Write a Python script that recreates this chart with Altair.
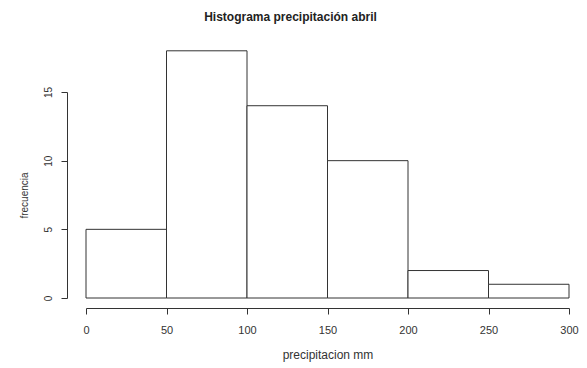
import altair as alt
import pandas as pd

bin_start = [0, 50, 100, 150, 200, 250]
bin_end = [50, 100, 150, 200, 250, 300]
counts = [5, 18, 14, 10, 2, 1]
x_ticks = [0, 50, 100, 150, 200, 250, 300]
y_ticks = [0, 5, 10, 15]

df = pd.DataFrame({"a": bin_start, "b": bin_end, "n": counts})

ink = "#333333"

chart = alt.Chart(df).mark_rect(fill="white", stroke=ink, strokeWidth=1).encode(
    x=alt.X("a:Q", scale=alt.Scale(domain=[0, 300], nice=False, zero=False),
            axis=alt.Axis(values=x_ticks, title="precipitacion mm", offset=10,
                          tickSize=6, labelPadding=10, titlePadding=14,
                          labelFlush=False, labelOverlap=False,
                          labelFontSize=11, titleFontSize=12, titleFontWeight="normal",
                          grid=False, domainColor=ink, tickColor=ink,
                          labelColor=ink, titleColor=ink,
                          labelFont="Liberation Sans", titleFont="Liberation Sans")),
    x2="b:Q",
    y=alt.Y("n:Q", scale=alt.Scale(domain=[0, 15], nice=False),
            axis=alt.Axis(values=y_ticks, title="frecuencia", offset=19,
                          tickSize=6, labelAngle=270, labelAlign="center",
                          labelBaseline="bottom", labelPadding=8, titlePadding=14,
                          labelFlush=False, labelOverlap=False,
                          labelFontSize=10, titleFontSize=10, titleFontWeight="normal",
                          grid=False, domainColor=ink, tickColor=ink,
                          labelColor=ink, titleColor=ink,
                          labelFont="Liberation Sans", titleFont="Liberation Sans")),
    y2=alt.datum(0),
).properties(
    width=483,
    height=206,
    title=alt.TitleParams("Histograma precipitación abril", font="Liberation Sans",
                          fontSize=12, fontWeight="bold", color="#222222",
                          anchor="middle", dx=-37, offset=26),
    autosize=alt.AutoSizeParams(type="none"),
    padding={"left": 78, "top": 84, "right": 10, "bottom": 68},
).configure_view(stroke=None)

chart.save("out.html", embed_options={"renderer": "svg", "actions": False})
